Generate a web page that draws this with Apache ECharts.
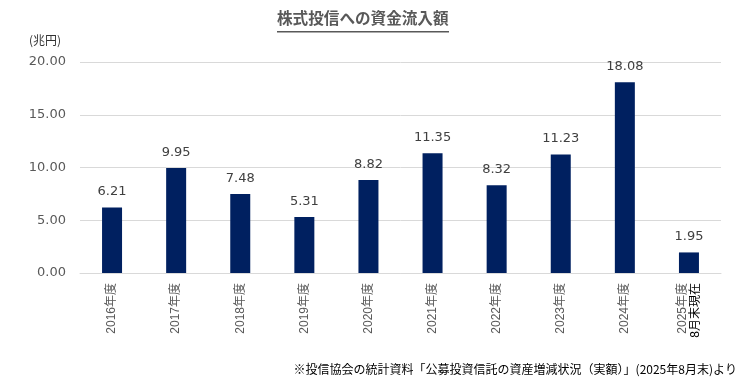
<!DOCTYPE html>
<html><head><meta charset="utf-8">
<script src="https://cdn.jsdelivr.net/npm/echarts@6/dist/echarts.min.js"></script>
<style>html,body{margin:0;padding:0;background:#fff}#c{width:742px;height:386px}</style>
</head><body><div id="c"></div>
<script>
const categories = ['2016年度','2017年度','2018年度','2019年度','2020年度','2021年度','2022年度','2023年度','2024年度','2025年度\n8月末現在'];
const values = [6.21, 9.95, 7.48, 5.31, 8.82, 11.35, 8.32, 11.23, 18.08, 1.95];
const yTicks = [0, 5, 10, 15, 20];
const cjk = '"Noto Sans CJK JP", "Noto Sans", sans-serif';
const num = '"DejaVu Sans", "Noto Sans CJK JP", sans-serif';
const cat = '"Liberation Sans", "Noto Sans CJK JP", sans-serif';
const chart = echarts.init(document.getElementById('c'));
chart.setOption({
  animation: false,
  graphic: [
    {type: 'text', left: 277, top: 10, style: {text: '株式投信への資金流入額', fontSize: 15.6, fontWeight: 'bold', fill: '#595959', fontFamily: cjk}},
    {type: 'rect', shape: {x: 277, y: 31, width: 172, height: 1.5}, style: {fill: '#595959'}},
    {type: 'text', left: 29, top: 34, style: {text: '(兆円)', fontSize: 12, fill: '#333', fontFamily: cjk}},
    {type: 'text', right: 5, top: 363, style: {text: '※投信協会の統計資料「公募投資信託の資産増減状況（実額）」(2025年8月末)より', fontSize: 12, fill: '#000', fontFamily: cjk}}
  ],
  grid: {left: 80, right: 21, top: 62, bottom: 113},
  xAxis: {
    type: 'category', data: categories,
    axisLine: {lineStyle: {color: '#d9d9d9'}}, axisTick: {show: false},
    axisLabel: {
      rotate: 90, interval: 0, fontSize: 12, color: '#595959', fontFamily: cat, margin: 10, lineHeight: 13,
      formatter: function (v) {
        const p = v.split('\n');
        return p.length > 1 ? '{a|' + p[0] + '}\n{b|' + p[1] + '}' : v;
      },
      rich: {a: {color: '#595959', fontSize: 12, fontFamily: cat, lineHeight: 13}, b: {color: '#000', fontSize: 12, fontFamily: cat, lineHeight: 13}}
    }
  },
  yAxis: {
    type: 'value', min: yTicks[0], max: yTicks[yTicks.length - 1], interval: 5,
    axisLine: {show: false}, axisTick: {show: false},
    splitLine: {lineStyle: {color: '#d9d9d9'}},
    axisLabel: {fontSize: 13, color: '#595959', fontFamily: num, margin: 14, formatter: v => v.toFixed(2)}
  },
  series: [{
    type: 'bar', data: values, barWidth: 20,
    itemStyle: {color: '#002060'},
    label: {show: true, position: 'top', distance: 9, fontSize: 13, color: '#404040', fontFamily: num, formatter: p => p.value.toFixed(2)}
  }]
});
</script></body></html>
